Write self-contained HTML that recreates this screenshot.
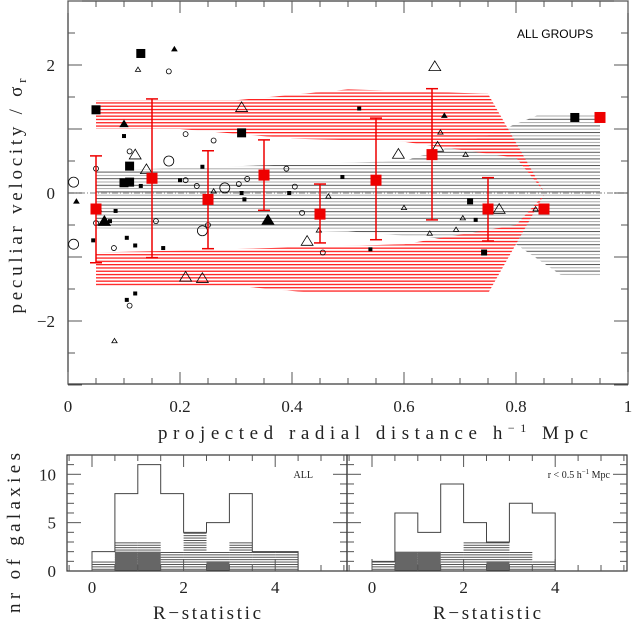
<!DOCTYPE html>
<html><head><meta charset="utf-8"><style>
html,body{margin:0;padding:0;background:#fff;}
svg{display:block;font-family:"Liberation Serif",serif;}
</style></head><body>
<svg id="chart" width="633" height="624" viewBox="0 0 633 624" xmlns="http://www.w3.org/2000/svg">
<defs>
<pattern id="redH" patternUnits="userSpaceOnUse" width="8" height="3.3"><rect x="0" y="0" width="8" height="1.3" fill="#ff2020"/></pattern>
<pattern id="grayH" patternUnits="userSpaceOnUse" width="8" height="6.6"><rect x="0" y="0" width="8" height="1" fill="#555"/><rect x="0" y="3.3" width="8" height="1" fill="#aaa"/></pattern>
<pattern id="histH" patternUnits="userSpaceOnUse" width="8" height="2.4"><rect x="0" y="0" width="8" height="0.9" fill="#444"/></pattern>
</defs>
<g id="main"></g>
<g id="hists"></g>
</svg>
<script>
// ---- main panel data ----
const binX = [0.05,0.15,0.25,0.35,0.45,0.55,0.65,0.75,0.85,0.95];
const meanV = [-0.25,0.23,-0.1,0.28,-0.33,0.2,0.6,-0.25,-0.25,1.18];
const errHi = [0.58,1.47,0.66,0.83,0.14,1.17,1.63,0.24,null,null];
const errLo = [-1.09,-1.01,-0.87,-0.27,-0.78,-0.73,-0.42,-0.75,null,null];
const upperEnvX = [0.05,0.3,0.5,0.75,0.85,0.8,0.6,0.4,0.2,0.05];
const upperEnvY = [1.45,1.45,1.62,1.55,0.02,0.55,0.8,0.85,1.0,1.0];
const lowerEnvX = [0.05,0.2,0.4,0.6,0.8,0.85,0.75,0.45,0.3,0.05];
const lowerEnvY = [-0.93,-0.9,-0.85,-0.8,-0.5,-0.03,-1.57,-1.57,-1.45,-1.45];
const grayEnvX = [0.05,0.6,0.75,0.84,0.95,0.95,0.88,0.8,0.5,0.05];
const grayEnvY = [0.35,0.5,0.9,1.22,1.22,-1.3,-1.28,-0.8,-0.6,-0.55];
const ptX = [0.13,0.19,0.125,0.18,0.05,0.1,0.31,0.1,0.21,0.31,0.26,0.11,0.12,0.11,0.14,0.18,0.05,0.01,0.1,0.11,0.13,0.2,0.21,0.23,0.24,0.28,0.305,0.32,0.26,0.31,0.315,0.39,0.405,0.395,0.49,0.465,0.015,0.055,0.065,0.075,0.085,0.05,0.157,0.24,0.25,0.357,0.418,0.448,0.427,0.01,0.045,0.082,0.105,0.12,0.17,0.455,0.21,0.24,0.12,0.105,0.11,0.083,0.52,0.655,0.672,0.665,0.66,0.59,0.71,0.6,0.705,0.646,0.693,0.718,0.728,0.77,0.835,0.743,0.54,0.905];
const ptY = [2.18,2.25,1.93,1.9,1.3,1.08,1.34,0.89,0.92,0.94,0.82,0.65,0.6,0.42,0.37,0.5,0.38,0.17,0.16,0.17,0.11,0.2,0.2,0.11,0.41,0.08,0.14,0.22,0.03,0.0,-0.1,0.38,0.1,0.0,0.25,-0.05,-0.13,-0.25,-0.44,-0.44,-0.28,-0.47,-0.44,-0.59,-0.5,-0.42,-0.31,-0.58,-0.75,-0.8,-0.74,-0.86,-0.7,-0.82,-0.86,-0.93,-1.31,-1.33,-1.57,-1.67,-1.76,-2.31,1.32,1.98,1.21,0.95,0.72,0.61,0.6,-0.23,-0.39,-0.63,-0.57,-0.13,-0.42,-0.25,-0.25,-0.93,-0.88,1.18];
const ptType = ["fs","ft","ot","oc","fs","ft","ot","fs","oc","fs","oc","oc","ot","fs","ot","oc","oc","oc","fs","fs","fs","fs","oc","oc","fs","oc","oc","oc","ot","fs","fs","oc","oc","fs","fs","ot","ft","ot","ft","fs","fs","oc","oc","oc","oc","ft","oc","ot","ot","oc","fs","oc","fs","fs","fs","oc","ot","ot","fs","fs","oc","ot","fs","ot","ft","ot","ot","ot","ot","ot","ot","ot","ot","fs","fs","ot","ot","fs","fs","fs"];
const ptSize = [3,1,1,1,3,2,3,1,1,3,1,1,3,3,3,3,1,3,3,3,1,1,1,1,1,3,1,1,1,1,1,1,1,1,1,1,1,1,3,1,1,1,1,3,1,3,1,1,3,3,1,1,1,1,1,1,3,3,1,1,1,1,1,3,1,1,3,3,1,1,1,1,1,2,1,3,1,2,1,3];
const xTickLabels = ["0","0.2","0.4","0.6","0.8","1"];
const yTickLabels = ["2","0","−2"];
// ---- histogram data (bins of width 0.5 starting at 0) ----
const binEdges = [0,0.5,1,1.5,2,2.5,3,3.5,4,4.5];
const allOuter = [2,8,11,8,4,5,8,2,2];
const allHatch = [1,3,3,2,4,2,3,2,2];
const allDark = [0,2,2,0,0,1,0,0,0];
const inOuter = [1,6,4,9,5,3,7,6,0];
const inHatch = [1,2,2,2,3,3,2,1,0];
const inDark = [0,2,2,0,0,1,0,0,0];
const histXTicks = ["0","2","4"];
const histYTicks = ["0","5","10"];

const NS="http://www.w3.org/2000/svg";
function mk(tag,attrs,parent){const e=document.createElementNS(NS,tag);for(const k in attrs)e.setAttribute(k,attrs[k]);parent.appendChild(e);return e;}
const X=v=>68+560*v, Y=v=>193-64*v;
const main=document.getElementById('main');

function poly(xs,ys,fill,name){
  const p=mk('polygon',{points:xs.map((x,i)=>X(x)+','+Y(ys[i])).join(' '),fill:fill},main);
  
  
}
poly(grayEnvX,grayEnvY,'url(#grayH)','gray-envelope');
poly(upperEnvX,upperEnvY,'url(#redH)','upper-red-envelope');
poly(lowerEnvX,lowerEnvY,'url(#redH)','lower-red-envelope');
const zl=mk('line',{x1:68,x2:628,y1:Y(0),y2:Y(0),stroke:'#999','stroke-width':1.2,'stroke-dasharray':'6,2,1,2'},main);



ptX.forEach((x,i)=>{
  const cx=X(x), cy=Y(ptY[i]), s=[0,2,3,4.5][ptSize[i]];
  const t=ptType[i]; let e;
  if(t==='fs') e=mk('rect',{x:cx-s,y:cy-s,width:2*s,height:2*s,fill:'#000'},main);
  else if(t==='oc') e=mk('circle',{cx:cx,cy:cy,r:s+0.5,fill:'none',stroke:'#000','stroke-width':0.8},main);
  else { const h=s*1.2; e=mk('polygon',{points:`${cx},${cy-h} ${cx-h*1.1},${cy+h*0.8} ${cx+h*1.1},${cy+h*0.8}`,fill:t==='ft'?'#000':'none',stroke:'#000','stroke-width':0.8},main); }
  
  
});

binX.forEach((x,i)=>{
  const cx=X(x);
  if(errHi[i]!==null){
    const g=mk('g',{stroke:'#e00','stroke-width':1.5},main);
    
    
    mk('line',{x1:cx,x2:cx,y1:Y(errHi[i]),y2:Y(errLo[i])},g);
    mk('line',{x1:cx-6,x2:cx+6,y1:Y(errHi[i]),y2:Y(errHi[i])},g);
    mk('line',{x1:cx-6,x2:cx+6,y1:Y(errLo[i]),y2:Y(errLo[i])},g);
  }
  const r=mk('rect',{x:cx-5.5,y:Y(meanV[i])-5.5,width:11,height:11,fill:'#e00'},main);
  
  
});

const fr=mk('rect',{x:68,y:1,width:560,height:383,fill:'none',stroke:'#333','stroke-width':1.2},main);


for(let k=0;k<=20;k++){const v=k*0.05,L=(k%4===0)?12:6;
  mk('line',{x1:X(v),x2:X(v),y1:384,y2:384-L,stroke:'#555'},main);
  mk('line',{x1:X(v),x2:X(v),y1:1,y2:1+L,stroke:'#555'},main);}
for(let k=-6;k<=6;k++){const v=k*0.5,L=(k%2===0)?14:7;
  mk('line',{x1:68,x2:68+L,y1:Y(v),y2:Y(v),stroke:'#555'},main);
  mk('line',{x1:628,x2:628-L,y1:Y(v),y2:Y(v),stroke:'#555'},main);}
xTickLabels.forEach((l,i)=>{const t=mk('text',{x:X(i*0.2),y:412,'font-size':17,'text-anchor':'middle',fill:'#222'},main);t.textContent=l;
  
  });
yTickLabels.forEach((l,i)=>{const t=mk('text',{x:55,y:Y(2-2*i)+6,'font-size':17,'text-anchor':'end',fill:'#222'},main);t.textContent=l;
  
  });

const hg=document.getElementById('hists');
const HY=n=>571-9.67*n;
function panel(x0,outer,hatch,dark,name){
  const R=v=>x0+25+45.8*v;
  const g=mk('g',{},hg);
  
  
  outer.forEach((n,i)=>{
    const xa=R(binEdges[i]), xb=R(binEdges[i+1]);
    if(hatch[i]>0){const r=mk('rect',{x:xa,y:HY(hatch[i]),width:xb-xa,height:HY(0)-HY(hatch[i]),fill:'url(#histH)'},g);
      
      }
    if(dark[i]>0){const r=mk('rect',{x:xa,y:HY(dark[i]),width:xb-xa,height:HY(0)-HY(dark[i]),fill:'#666'},g);
      
      }
  });
  let d=`M${R(binEdges[0])},${HY(0)}`;
  outer.forEach((n,i)=>{d+=` L${R(binEdges[i])},${HY(n)} L${R(binEdges[i+1])},${HY(n)}`;});
  d+=` L${R(binEdges[outer.length])},${HY(0)}`;
  const p=mk('path',{d:d,fill:'none',stroke:'#444','stroke-width':1},g);
  
  
  mk('rect',{x:x0,y:455,width:280,height:116,fill:'none',stroke:'#333','stroke-width':1.2},g);
  for(let k=-1;k<=11;k++){const v=k*0.5;if(R(v)<=x0||R(v)>=x0+280)continue;const L=(k%4===0)?12:6;
    mk('line',{x1:R(v),x2:R(v),y1:571,y2:571-L,stroke:'#555'},g);
    mk('line',{x1:R(v),x2:R(v),y1:455,y2:455+L,stroke:'#555'},g);}
  for(let k=1;k<12;k++){const L=(k%5===0)?14:7;
    mk('line',{x1:x0,x2:x0+L,y1:HY(k),y2:HY(k),stroke:'#555'},g);
    mk('line',{x1:x0+280,x2:x0+280-L,y1:HY(k),y2:HY(k),stroke:'#555'},g);}
  histXTicks.forEach((l,i)=>{const t=mk('text',{x:R(2*i),y:593,'font-size':17,'text-anchor':'middle',fill:'#222'},g);t.textContent=l;
    
    });
  const xl=mk('text',{x:x0+140,y:619,'font-size':19,'text-anchor':'middle',fill:'#222',textLength:108,lengthAdjust:'spacing'},g);xl.textContent='R−statistic';
  
  
}
panel(67,allOuter,allHatch,allDark,'all-histogram');
panel(347,inOuter,inHatch,inDark,'inner-histogram');
histYTicks.forEach((l,i)=>{const t=mk('text',{x:56,y:HY(5*i)+6,'font-size':17,'text-anchor':'end',fill:'#222'},hg);t.textContent=l;
  
  });
</script>
<svg style="position:absolute;left:0;top:0" width="633" height="624" xmlns="http://www.w3.org/2000/svg" font-family="Liberation Serif, serif">
<text x="517" y="38" font-family="Liberation Sans, sans-serif" font-size="12" fill="#000">ALL GROUPS</text>
<text transform="translate(22,196) rotate(-90)" text-anchor="middle" font-size="19" fill="#222" textLength="235" lengthAdjust="spacing">peculiar velocity / σ<tspan font-size="13" dy="4">r</tspan></text>
<text x="373" y="439" text-anchor="middle" font-size="19" fill="#222" textLength="430" lengthAdjust="spacing">projected radial distance h<tspan font-size="12" dy="-7">−1</tspan><tspan dy="7"> Mpc</tspan></text>
<text transform="translate(20,533) rotate(-90)" text-anchor="middle" font-size="19" fill="#222" textLength="160" lengthAdjust="spacing">nr of galaxies</text>
<text x="313" y="478" text-anchor="end" font-size="10" fill="#222">ALL</text>
<text x="610" y="478" text-anchor="end" font-size="10" fill="#222">r &lt; 0.5 h<tspan font-size="7" dy="-4">−1</tspan><tspan dy="4"> Mpc</tspan></text>
</svg>
</body></html>
